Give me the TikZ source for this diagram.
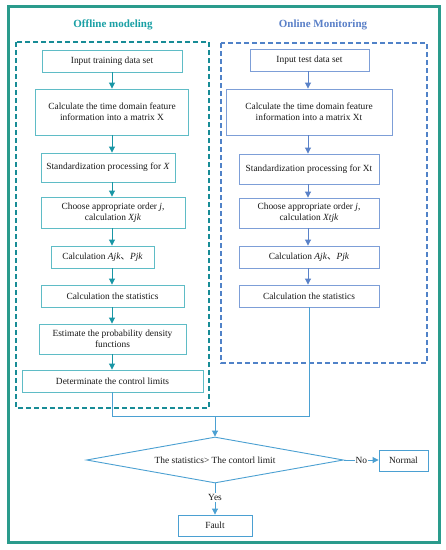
\documentclass[tikz,border=0pt]{standalone}
\usepackage{fontspec}
\setmainfont{Liberation Serif}
\newfontfamily\cjk{Noto Sans CJK SC}
\usetikzlibrary{shapes.geometric,arrows.meta}
\definecolor{framec}{RGB}{42,155,140}
\definecolor{offc}{RGB}{24,140,150}
\definecolor{offtitle}{RGB}{26,160,165}
\definecolor{lboxc}{RGB}{95,188,198}
\definecolor{larrc}{RGB}{25,150,165}
\definecolor{onc}{RGB}{80,130,200}
\definecolor{ontitle}{RGB}{90,128,200}
\definecolor{rboxc}{RGB}{125,158,215}
\definecolor{rarrc}{RGB}{90,130,200}
\definecolor{mc}{RGB}{75,160,210}
\newcommand{\txtf}{\fontsize{9.4}{11}\selectfont}
\begin{document}
\begin{tikzpicture}[x=1pt,y=-1pt,
  lbox/.style={draw=lboxc,line width=0.9pt,inner sep=1pt,align=center,font=\txtf,text=black!90},
  rbox/.style={draw=rboxc,line width=0.9pt,inner sep=1pt,align=center,font=\txtf,text=black!90},
  mbox/.style={draw=mc,line width=0.9pt,inner sep=1pt,align=center,font=\txtf,text=black!90},
  larr/.style={draw=larrc,line width=0.9pt,-{Triangle[length=6pt,width=6pt]}},
  rarr/.style={draw=rarrc,line width=0.9pt,-{Triangle[length=6pt,width=6pt]}},
  marr/.style={draw=mc,line width=0.9pt,-{Triangle[length=6pt,width=6pt]}},
  mline/.style={draw=mc,line width=0.9pt},
  title/.style={font=\fontsize{11}{13}\selectfont\bfseries},
  lbl/.style={font=\txtf,text=black!90,fill=white,inner sep=1pt}
]
\useasboundingbox (0,0) rectangle (446,550);
\fill[white] (0,0) rectangle (446,550);
% outer frame
\draw[framec,line width=3pt] (8.5,6.5) rectangle (439.5,542.5);
% dashed group boxes
\draw[offc,line width=1.4pt,dash pattern=on 5pt off 3pt] (16,42) rectangle (209,408);
\draw[onc,line width=1.4pt,dash pattern=on 5pt off 3pt] (221,43) rectangle (427,363);
% titles
\node[title,text=offtitle] (T1) at (113,25) {Offline modeling};
\node[title,text=ontitle] (T2) at (323,25) {Online Monitoring};
% left column
\node[lbox,minimum width=140pt,minimum height=22pt] (A1) at (112,61) {Input training data set};
\node[lbox,minimum width=153pt,minimum height=46pt] (A2) at (112,112) {Calculate the time domain feature\\information into a matrix X};
\node[lbox,minimum width=134pt,minimum height=29pt] (A3) at (108,167.5) {Standardization processing for \textit{X}};
\node[lbox,minimum width=144pt,minimum height=31pt] (A4) at (113,212.5) {Choose appropriate order \textit{j},\\calculation \textit{Xjk}};
\node[lbox,minimum width=103pt,minimum height=22pt] (A5) at (102.5,257) {Calculation \textit{Ajk}{\cjk 、}\textit{Pjk}};
\node[lbox,minimum width=143pt,minimum height=22pt] (A6) at (112.5,296) {Calculation the statistics};
\node[lbox,minimum width=147pt,minimum height=30pt] (A7) at (112.5,339) {Estimate the probability density\\functions};
\node[lbox,minimum width=181pt,minimum height=22pt] (A8) at (112.5,381) {Determinate the control limits};
\coordinate (LX) at (112,0);
\foreach \a/\b in {A1/A2,A2/A3,A3/A4,A4/A5,A5/A6,A6/A7,A7/A8}
  \draw[larr] (\a.south -| LX) -- (\b.north -| LX);
% right column
\node[rbox,minimum width=119pt,minimum height=22pt] (B1) at (309.5,60) {Input test data set};
\node[rbox,minimum width=166pt,minimum height=46pt] (B2) at (309,112) {Calculate the time domain feature\\information into a matrix Xt};
\node[rbox,minimum width=140pt,minimum height=30pt] (B3) at (309,169) {Standardization processing for Xt};
\node[rbox,minimum width=140pt,minimum height=30pt] (B4) at (309,213) {Choose appropriate order \textit{j},\\calculation \textit{Xtjk}};
\node[rbox,minimum width=140pt,minimum height=22pt] (B5) at (309,257) {Calculation \textit{Ajk}{\cjk 、}\textit{Pjk}};
\node[rbox,minimum width=140pt,minimum height=22pt] (B6) at (309,296) {Calculation the statistics};
\coordinate (RX) at (308,0);
\foreach \a/\b in {B1/B2,B2/B3,B3/B4,B4/B5,B5/B6}
  \draw[rarr] (\a.south -| RX) -- (\b.north -| RX);
% merge
\coordinate (M1) at (112,416);
\coordinate (M) at (215,416);
\draw[mline] (A8.south -| LX) -- (M1) -- (B6.south |- M1) -- (B6.south);
% decision
\node[diamond,draw=mc,line width=0.9pt,aspect=5.6,inner sep=0pt,minimum width=257pt,minimum height=46pt,font=\txtf,text=black!90] (D) at (215,460) {The statistics> The contorl limit};
\draw[marr] (M) -- (D.north);
\node[mbox,minimum width=49pt,minimum height=21pt] (N) at (403.5,460.5) {Normal};
\node[mbox,minimum width=74pt,minimum height=21pt] (F) at (215,525.5) {Fault};
\draw[marr] (D.east) -- node[lbl] {No} (N.west |- D.east);
\draw[marr] (D.south) -- node[lbl,pos=0.45] {Yes} (F.north);
\end{tikzpicture}
\end{document}
